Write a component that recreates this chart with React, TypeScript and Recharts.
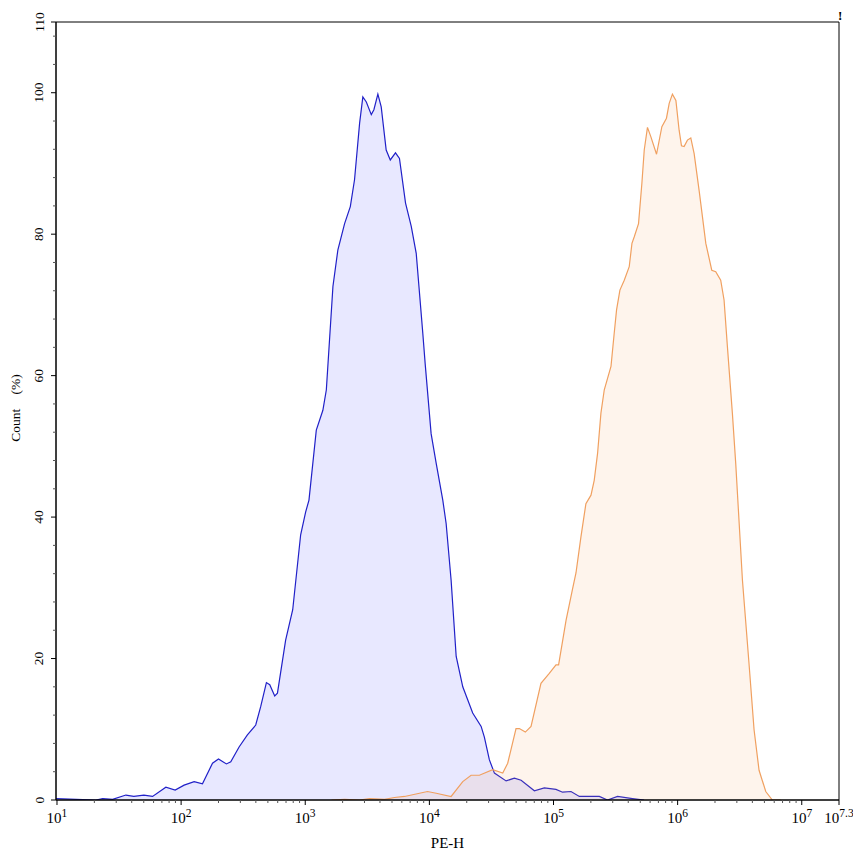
import React from 'react';
import { ComposedChart, Area, XAxis, YAxis, ReferenceArea } from 'recharts';

// Log10 of PE-H intensity for the blue (control) histogram
const blueX = [0.992, 1.153, 1.314, 1.368, 1.448, 1.555, 1.619, 1.7, 1.77, 1.877, 1.952, 2.024, 2.105, 2.172, 2.253, 2.301, 2.365, 2.4, 2.467, 2.534, 2.601, 2.641, 2.687, 2.714, 2.754, 2.776, 2.842, 2.899, 2.963, 3.003, 3.03, 3.089, 3.142, 3.17, 3.223, 3.263, 3.317, 3.363, 3.397, 3.438, 3.464, 3.492, 3.532, 3.553, 3.585, 3.612, 3.652, 3.685, 3.727, 3.759, 3.808, 3.854, 3.894, 3.947, 3.966, 4.014, 4.055, 4.108, 4.135, 4.175, 4.216, 4.269, 4.349, 4.417, 4.443, 4.483, 4.524, 4.618, 4.685, 4.739, 4.846, 4.926, 5.02, 5.073, 5.141, 5.208, 5.369, 5.435, 5.516, 5.636, 5.73];
const blueY = [0.2, 0.1, 0, 0.2, 0.1, 0.7, 0.5, 0.7, 0.5, 1.8, 1.4, 2.1, 2.6, 2.3, 5.2, 5.8, 5.1, 5.4, 7.5, 9.2, 10.6, 13.2, 16.6, 16.3, 14.7, 15.1, 22.6, 26.9, 37.5, 40.7, 42.4, 52.3, 55.1, 58.0, 72.6, 77.8, 81.5, 83.9, 87.7, 95.7, 99.4, 98.7, 96.9, 97.6, 99.8, 98.0, 91.9, 90.5, 91.5, 90.7, 84.4, 81.1, 77.3, 66.0, 61.7, 51.8, 47.6, 42.4, 39.1, 31.1, 20.3, 16.0, 12.3, 10.4, 8.9, 5.7, 3.8, 2.7, 3.1, 2.8, 1.3, 1.7, 1.5, 1.1, 1.2, 0.5, 0.5, 0, 0.5, 0.2, 0];

// Log10 of PE-H intensity for the orange (stained) histogram
const orangeX = [3.212, 3.317, 3.438, 3.518, 3.639, 3.719, 3.8, 3.92, 3.985, 4.055, 4.175, 4.269, 4.336, 4.403, 4.51, 4.591, 4.631, 4.698, 4.725, 4.773, 4.819, 4.899, 4.966, 5.02, 5.041, 5.101, 5.154, 5.181, 5.221, 5.261, 5.302, 5.328, 5.355, 5.382, 5.409, 5.463, 5.489, 5.508, 5.535, 5.57, 5.61, 5.632, 5.65, 5.685, 5.712, 5.731, 5.757, 5.784, 5.83, 5.873, 5.91, 5.932, 5.958, 5.986, 6.012, 6.031, 6.052, 6.079, 6.106, 6.133, 6.173, 6.227, 6.275, 6.307, 6.347, 6.374, 6.401, 6.441, 6.468, 6.522, 6.575, 6.616, 6.656, 6.71, 6.763, 6.83];
const orangeY = [0, 0.1, 0, 0.2, 0.1, 0.35, 0.5, 0.95, 1.2, 0.95, 0.5, 2.6, 3.5, 3.5, 4.3, 3.8, 5.2, 10.1, 10.1, 9.6, 10.4, 16.5, 17.9, 19.1, 19.1, 25.4, 29.9, 32.1, 37.2, 41.9, 43.1, 45.2, 49.0, 54.7, 58.0, 61.3, 66.0, 69.3, 72.1, 73.5, 75.4, 78.7, 79.6, 81.5, 87.2, 91.9, 95.1, 93.8, 91.3, 95.2, 96.4, 98.5, 99.8, 98.9, 94.7, 92.5, 92.4, 93.3, 93.6, 91.4, 86.2, 78.7, 74.9, 74.7, 73.5, 70.7, 64.1, 54.7, 47.6, 31.1, 19.3, 9.9, 4.2, 1.2, 0, 0];

// Axis ticks
const xMajorExponents = [1, 2, 3, 4, 5, 6, 7, 7.3];
const xMajorLabels = ['1', '2', '3', '4', '5', '6', '7', '7.3'];
const xMinorMultipliers = [2, 3, 4, 5, 6, 7, 8, 9];
const yMajorTicks = [0, 20, 40, 60, 80, 100, 110];
const yMinorTicks = [4, 8, 12, 16, 24, 28, 32, 36, 44, 48, 52, 56, 64, 68, 72, 76, 84, 88, 92, 96, 104, 108];

const FONT = '"Liberation Serif", "Times New Roman", serif';

type Row = { x: number; blue?: number; orange?: number };
const rows: Row[] = [
  ...blueX.map((x, i) => ({ x, blue: blueY[i] })),
  ...orangeX.map((x, i) => ({ x, orange: orangeY[i] })),
].sort((a, b) => a.x - b.x);

const xMinorTicks: number[] = [];
for (let d = 1; d <= 6; d++) {
  for (const k of xMinorMultipliers) xMinorTicks.push(d + Math.log10(k));
}
const xTicks = [...xMajorExponents, ...xMinorTicks].sort((a, b) => a - b);
const yTicks = [...yMajorTicks, ...yMinorTicks].sort((a, b) => a - b);

const XTick = (props: any) => {
  const { x, y, payload } = props;
  const v = payload.value as number;
  const idx = xMajorExponents.findIndex((m) => Math.abs(m - v) < 1e-6);
  const major = idx >= 0;
  return (
    <g>
      <line x1={x} x2={x} y1={y} y2={y + (major ? 5 : 3)} stroke={major ? '#000' : '#555'} strokeWidth={1} />
      {major && (
        <text x={x} y={y + 23} textAnchor="middle" fontFamily={FONT} fontSize={15} fill="#000">
          10
          <tspan dy={-6} fontSize={11.5}>{xMajorLabels[idx]}</tspan>
        </text>
      )}
    </g>
  );
};

const YTick = (props: any) => {
  const { x, y, payload } = props;
  const v = payload.value as number;
  const major = yMajorTicks.includes(v);
  const lx = x - 17;
  return (
    <g>
      <line x1={x} x2={x - (major ? 5 : 3)} y1={y} y2={y} stroke={major ? '#000' : '#555'} strokeWidth={1} />
      {major && (
        <text
          x={lx}
          y={y}
          transform={`rotate(-90 ${lx} ${y})`}
          textAnchor="middle"
          dominantBaseline="central"
          fontFamily={FONT}
          fontSize={13.5}
          fill="#000"
        >
          {v}
        </text>
      )}
    </g>
  );
};

export default function App() {
  return (
    <div style={{ position: 'absolute', left: 0, top: 0, width: 853, height: 856, background: '#fff' }}>
      <ComposedChart
        width={853}
        height={856}
        data={rows}
        margin={{ top: 22, right: 14, left: 16, bottom: 26 }}
      >
        <XAxis
          dataKey="x"
          type="number"
          domain={[0.992, 7.3]}
          ticks={xTicks}
          interval={0}
          tick={XTick}
          tickLine={false}
          tickSize={0}
          tickMargin={0}
          height={30}
          allowDataOverflow
          axisLine={{ stroke: '#000', strokeWidth: 1 }}
          label={{
            content: (p: any) => {
              const vb = p.viewBox || { x: 56, y: 800, width: 783, height: 30 };
              const cx = vb.x + vb.width / 2;
              const cy = vb.y + vb.height + 18;
              return (
                <text x={cx} y={cy} textAnchor="middle" fontFamily={FONT} fontSize={15} fill="#000">
                  PE-H
                </text>
              );
            },
          }}
        />
        <YAxis
          type="number"
          domain={[0, 110]}
          ticks={yTicks}
          interval={0}
          tick={YTick}
          tickLine={false}
          tickSize={0}
          tickMargin={0}
          width={40}
          allowDataOverflow
          axisLine={{ stroke: '#000', strokeWidth: 1 }}
          label={{
            content: (p: any) => {
              const vb = p.viewBox || { x: 16, y: 22, width: 40, height: 778 };
              const cx = vb.x - 1;
              const cy = vb.y + vb.height / 2 - 3;
              return (
                <text
                  x={cx}
                  y={cy}
                  transform={`rotate(-90 ${cx} ${cy})`}
                  textAnchor="middle"
                  dominantBaseline="central"
                  fontFamily={FONT}
                  fontSize={13.5}
                  wordSpacing={11}
                  fill="#000"
                >
                  Count (%)
                </text>
              );
            },
          }}
        />
        <Area
          dataKey="blue"
          type="linear"
          stroke="#2020c8"
          strokeWidth={1.2}
          fill="#0000ff"
          fillOpacity={0.09}
          connectNulls
          dot={false}
          activeDot={false}
          isAnimationActive={false}
        />
        <Area
          dataKey="orange"
          type="linear"
          stroke="#f0a060"
          strokeWidth={1.2}
          fill="#f4a460"
          fillOpacity={0.12}
          connectNulls
          dot={false}
          activeDot={false}
          isAnimationActive={false}
        />
        <ReferenceArea x1={0.992} x2={7.3} y1={0} y2={110} fill="none" stroke="#000" strokeWidth={1} ifOverflow="visible" />
      </ComposedChart>
      <div
        style={{
          position: 'absolute',
          left: 838,
          top: 9,
          fontFamily: FONT,
          fontWeight: 'bold',
          fontSize: 13,
          lineHeight: '13px',
          color: '#000',
        }}
      >
        !
      </div>
    </div>
  );
}
